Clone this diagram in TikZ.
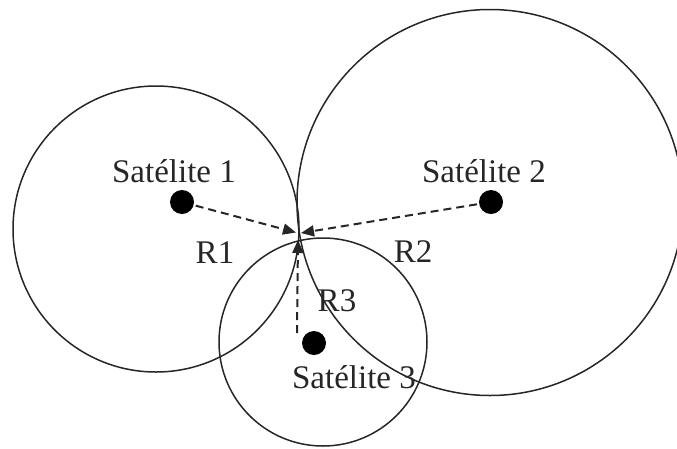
\documentclass[tikz,border=0pt]{standalone}
\usepackage{fontspec}
\setmainfont{Liberation Serif}
\usetikzlibrary{arrows.meta}
\definecolor{ink}{HTML}{262626}
\tikzset{
  orb/.style={draw=ink, line width=1.5pt},
  dot/.style={circle, fill=black, inner sep=0pt, minimum size=24pt},
  lbl/.style={text=ink, font=\fontsize{33}{36}\selectfont, anchor=base, inner sep=0pt},
  ray/.style={draw=ink, line width=2pt, dash pattern=on 8pt off 5pt,
    -{Triangle[length=13pt,width=11pt]}, shorten <=2pt}
}
\begin{document}
\begin{tikzpicture}[x=1pt,y=-1pt]
\useasboundingbox (0,0) rectangle (677,448);
\clip (0,0) rectangle (677,448);
% circles
\draw[orb] (156,229) circle[radius=143];
\draw[orb] (490,202.5) circle[radius=193];
\draw[orb] (323,342) circle[radius=104];
% satellites
\node[dot] (s1) at (182,202) {};
\node[dot] (s2) at (491,202) {};
\node[dot] (s3) at (314,343) {};
% labels
\node[lbl] (l1) at (174,182) {Satélite 1};
\node[lbl] (l2) at (484,182) {Satélite 2};
\node[lbl] (l3) at (354,388) {Satélite 3};
\node[lbl] (r1) at (215,263) {R1};
\node[lbl] (r2) at (413,262) {R2};
\node[lbl] (r3) at (337,311) {R3};
% rays
\coordinate (t1) at (296,232.5);
\coordinate (t2) at (301,233);
\coordinate (t3) at (298,240);
\coordinate (b3) at (297,333);
\draw[ray] (s1) -- (t1);
\draw[ray] (s2) -- (t2);
\draw[ray, shorten <=0pt] (b3) -- (t3);
\end{tikzpicture}
\end{document}
